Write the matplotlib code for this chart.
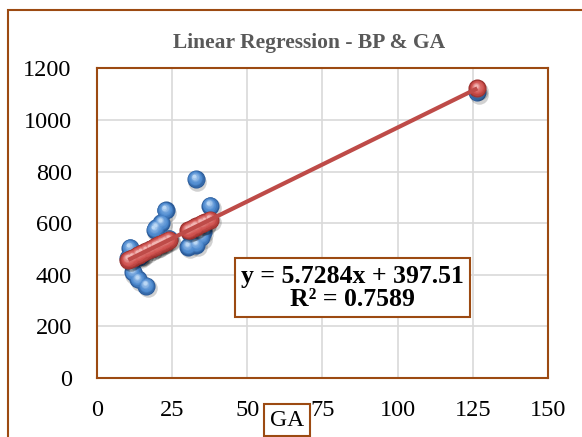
import numpy as np
import matplotlib
matplotlib.use("Agg")
import matplotlib.pyplot as plt
from matplotlib.colors import to_rgb
from matplotlib.transforms import offset_copy
from matplotlib.patches import Rectangle

# gestational age vs birth parameter
ga = [10.5, 11, 12, 13.7, 16.5, 14, 15, 18, 19.3, 19.8, 21.5, 22.9, 20.5, 22, 24,
      30.4, 31, 33.1, 34.8, 35.2, 32.9, 36, 37.6, 32, 126.5]
bp = [465, 505, 409, 382, 357, 470, 480, 500, 575, 583, 602, 650, 520, 530, 540,
      509, 560, 517, 545, 567, 771, 600, 668, 580, 1107]

slope = 5.7284
intercept = 397.51
r2 = 0.7589

xticks = [0, 25, 50, 75, 100, 125, 150]
yticks = [0, 200, 400, 600, 800, 1000, 1200]

brown = "#9C4A12"
serif = "Liberation Serif"

fig = plt.figure(figsize=(5.82, 4.37), dpi=100)
ax = fig.add_axes([0.1662, 0.135, 0.7754, 0.7087])

# outer chart border, runs off the right and bottom edges
fig.patches.append(Rectangle((8 / 582, -0.2), 1.2, 0.2 + (437 - 10) / 437,
                             transform=fig.transFigure, fill=False,
                             edgecolor=brown, linewidth=1.5))


def spheres(x, y, dark, mid, light, z):
    s = 170
    sh = offset_copy(ax.transData, fig=fig, x=1.2, y=-1.8, units="points")
    ax.scatter(x, y, s=s * 1.05, color="#000000", alpha=0.18, lw=0,
               transform=sh, zorder=z)
    d, m, l = (np.array(to_rgb(c)) for c in (dark, mid, light))
    n = 10
    for i in range(n):
        f = i / (n - 1)
        k = 1 - 0.8 * f
        off = 2.0 * f
        if f < 0.35:
            c = d + (m - d) * (f / 0.35)
        else:
            c = m + (l - m) * ((f - 0.35) / 0.65) ** 1.5
        t = offset_copy(ax.transData, fig=fig, x=-off * 0.5, y=off, units="points")
        ax.scatter(x, y, s=s * k ** 2, color=c, lw=0, transform=t,
                   zorder=z + 0.01 * (i + 1))


x = np.array(ga)
y = np.array(bp)
pred = slope * x + intercept

spheres(x, y, "#2A5A98", "#4F8BD0", "#BBD8F5", 3)
spheres(x, pred, "#9A302D", "#D0524F", "#F2B6B4", 4)

xl = np.array([x.min(), x.max()])
ax.plot(xl, slope * xl + intercept, color="#BE4B48", lw=3, zorder=6,
        solid_capstyle="butt")

ax.set_xlim(0, 150)
ax.set_ylim(0, 1200)
ax.set_xticks(xticks)
ax.set_yticks(yticks)
ax.tick_params(length=0, labelsize=17.5)
ax.tick_params(axis="y", pad=18)
ax.tick_params(axis="x", pad=16)
for lab in ax.get_xticklabels() + ax.get_yticklabels():
    lab.set_fontfamily(serif)
ax.grid(True, color="#D9D9D9", lw=1.2)
ax.set_axisbelow(True)
for sp in ax.spines.values():
    sp.set_color(brown)
    sp.set_linewidth(1.5)

fig.text(309 / 582, (437 - 43) / 437, "Linear Regression - BP & GA",
         ha="center", va="center", fontsize=15.5, fontweight="bold",
         color="#595959", family=serif)

ax.text(0.567, 0.292, "y = 5.7284x + 397.51\nR\u00b2 = 0.7589",
        transform=ax.transAxes, ha="center", va="center", fontsize=18.5,
        fontweight="bold", family=serif, linespacing=1.0,
        bbox=dict(boxstyle="square,pad=0.25", fc="white", ec=brown, lw=1.5),
        zorder=10)

fig.text(287 / 582, (437 - 420) / 437, "GA", ha="center", va="center",
         fontsize=17, family=serif,
         bbox=dict(boxstyle="square,pad=0.25", fc="white", ec=brown, lw=1.5))

fig.savefig("out.png", dpi=100)
